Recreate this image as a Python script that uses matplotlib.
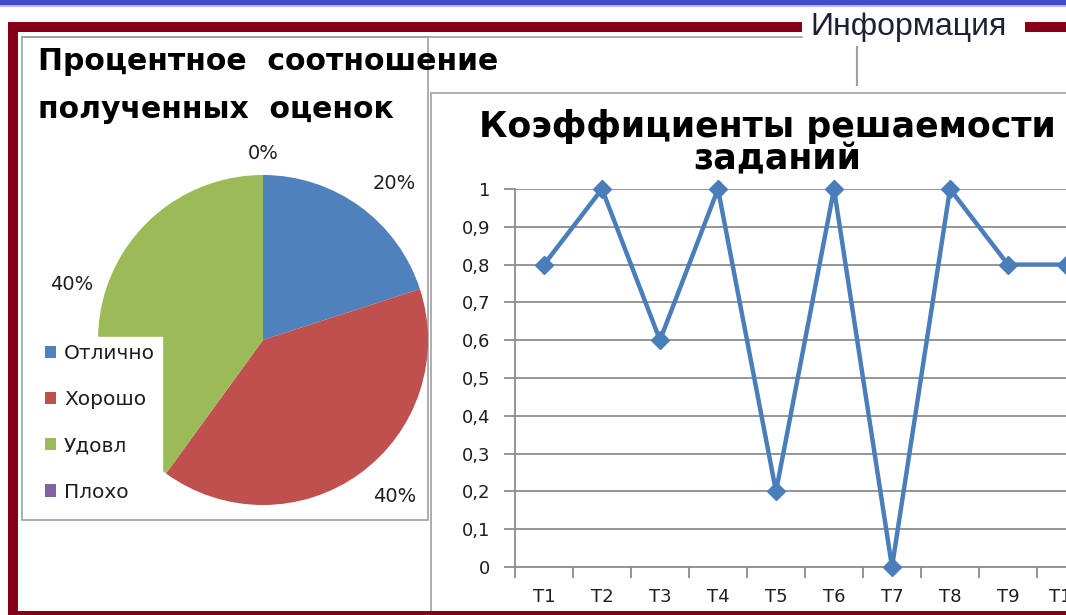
import numpy as np
import matplotlib
matplotlib.use("Agg")
import matplotlib.pyplot as plt
from matplotlib.patches import Rectangle
import matplotlib.ticker as ticker

# pie data
grade_labels = ["Отлично", "Хорошо", "Удовл", "Плохо"]
grade_share = [20, 40, 40, 0]
pie_colors = ["#4f81bd", "#c0504d", "#9bbb59", "#8064a2"]

# line data
tasks = ["T1", "T2", "T3", "T4", "T5", "T6", "T7", "T8", "T9", "T10"]
solve_coef = [0.8, 1, 0.6, 1, 0.2, 1, 0, 1, 0.8, 0.8]

W, H = 1066, 615
RED = "#87001a"
GRAY = "#a0a0a0"
TXT = "#1e1e1e"

fig = plt.figure(figsize=(W / 100, H / 100), dpi=100)
fig.patch.set_facecolor("white")


def fx(px):
    return px / W


def fy(py):
    return 1 - py / H


# background: blue bar, chart boxes, captions
bg = fig.add_axes([0, 0, 1, 1], zorder=0)
bg.set_xlim(0, W)
bg.set_ylim(H, 0)
bg.axis("off")
bg.add_patch(Rectangle((0, 0), W, 4.5, color="#3f4bc7", lw=0))
bg.add_patch(Rectangle((0, 4.5), W, 2, color="#b4b9ea", lw=0))
bg.plot([22, 802], [37, 37], color=GRAY, lw=1.2)
bg.add_patch(Rectangle((22, 37), 406, 483, facecolor="white", edgecolor=GRAY, lw=1.2))
bg.plot([857, 857], [47, 85], color=GRAY, lw=1.5)
bg.add_patch(Rectangle((431, 93), 700, 600, facecolor="white", edgecolor=GRAY, lw=1.2))
bg.text(38, 62, "Процентное  соотношение", fontsize=21.5, fontweight="bold",
        color="black", va="center", ha="left")
bg.text(38, 110, "полученных  оценок", fontsize=21.5, fontweight="bold",
        color="black", va="center", ha="left")
bg.text(767, 126, "Коэффициенты решаемости", fontsize=25, fontweight="bold",
        color="black", va="center", ha="center")
bg.text(777, 159, "заданий", fontsize=25, fontweight="bold",
        color="black", va="center", ha="center")
bg.text(909, 27, "Информация", fontsize=23, family="Liberation Sans",
        color="#1c2233", va="center", ha="center")

# pie chart
cx, cy, r = 263, 340, 165
axp = fig.add_axes([fx(cx - r), fy(cy + r), fx(2 * r), 2 * r / H], zorder=2)
wedges, _, autotexts = axp.pie(grade_share, colors=pie_colors, startangle=90,
                               counterclock=False, radius=1,
                               autopct=lambda p: "{:.0f}%".format(p),
                               pctdistance=1.22,
                               wedgeprops=dict(linewidth=0))
for w, t in zip(wedges, autotexts):
    t.set_fontsize(14)
    t.set_color(TXT)
    a = np.deg2rad((w.theta1 + w.theta2) / 2)
    if w.theta2 - w.theta1 < 1e-6:
        t.set_position((1.13 * np.cos(a), 1.13 * np.sin(a)))
    else:
        # Excel nudges outside labels a little
        px, py = t.get_position()
        dx = 0.08 if np.cos(a) > 0 else 0
        t.set_position((px + dx, py - 0.04 * np.sign(py)))
axp.set_xlim(-1, 1)
axp.set_ylim(-1, 1)
for p in axp.patches + axp.texts:
    p.set_clip_on(False)
leg = axp.legend(wedges, grade_labels, loc="upper left",
                 bbox_to_anchor=(fx(38), fy(337)), bbox_transform=fig.transFigure,
                 frameon=True, fancybox=False, framealpha=1, borderaxespad=0,
                 fontsize=14.5, handlelength=0.55, handleheight=0.55,
                 handletextpad=0.4, labelspacing=1.35, borderpad=0.35)
leg.get_frame().set_facecolor("white")
leg.get_frame().set_edgecolor("white")
for t in leg.get_texts():
    t.set_color(TXT)

# line chart
x = np.arange(len(tasks))
axl = fig.add_axes([fx(515), fy(567), 580 / W, 378 / H], zorder=2)
axl.set_facecolor("none")
axl.plot(x, solve_coef, color="#4a7ebb", lw=3.2, marker="D", ms=9,
         clip_on=False, zorder=3)
axl.set_xlim(-0.5, len(tasks) - 0.5)
axl.set_ylim(0, 1)
axl.yaxis.set_major_locator(ticker.MultipleLocator(0.1))
axl.yaxis.set_major_formatter(
    ticker.FuncFormatter(lambda v, pos: ("%g" % round(v, 1)).replace(".", ",")))
axl.grid(axis="y", color="#8c8c8c", lw=1.3)
axl.set_axisbelow(True)
axl.set_xticks(x)
axl.set_xticklabels(tasks)
axl.set_xticks(np.arange(len(tasks) + 1) - 0.5, minor=True)
axl.tick_params(axis="x", which="major", length=0, pad=15, labelsize=13, labelcolor=TXT)
axl.tick_params(axis="x", which="minor", length=8, width=1.3, color="#8c8c8c", direction="out")
axl.tick_params(axis="y", length=8, width=1.3, color="#8c8c8c", pad=10, labelsize=13,
                labelcolor=TXT)
for s in ["top", "right"]:
    axl.spines[s].set_visible(False)
for s in ["left", "bottom"]:
    axl.spines[s].set_color("#8c8c8c")
    axl.spines[s].set_linewidth(1.3)

# dark red frame on top
fg = fig.add_axes([0, 0, 1, 1], zorder=10)
fg.set_xlim(0, W)
fg.set_ylim(H, 0)
fg.axis("off")
fg.patch.set_alpha(0)
fg.add_patch(Rectangle((8, 22), 802 - 8, 9.5, color=RED, lw=0))
fg.add_patch(Rectangle((1025, 22), W - 1025, 9.5, color=RED, lw=0))
fg.add_patch(Rectangle((8, 22), 9.5, H - 22, color=RED, lw=0))
fg.add_patch(Rectangle((8, 611), W - 8, 4, color=RED, lw=0))

fig.savefig("out.png", dpi=100, facecolor="white")
